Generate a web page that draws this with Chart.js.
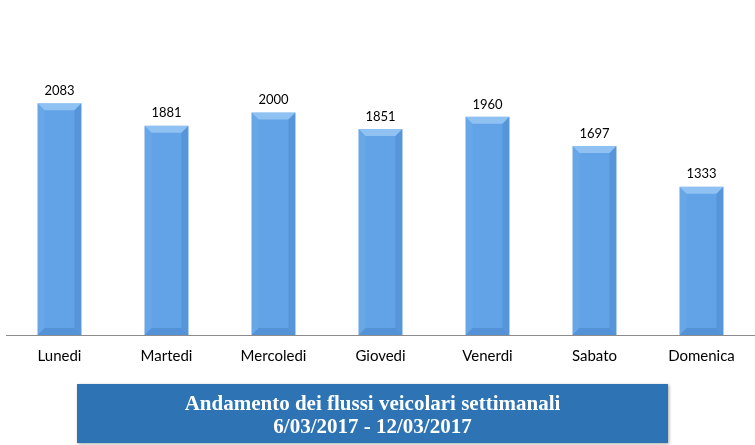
<!DOCTYPE html>
<html>
<head>
<meta charset="utf-8">
<script src="https://cdn.jsdelivr.net/npm/chart.js@4/dist/chart.umd.min.js"></script>
<style>
  html, body { margin: 0; padding: 0; background: #fff; }
  #wrap { position: relative; width: 755px; height: 445px; }
  #titleBox {
    position: absolute; left: 77px; top: 384px; width: 591px; height: 59px;
    background: #2e74b5; color: #fff; text-align: center;
    font-family: "Liberation Serif", serif; font-weight: bold; font-size: 21px;
    line-height: 23px; box-sizing: border-box; padding-top: 8px;
    box-shadow: 1px 1px 3px rgba(0,0,0,0.35);
  }
</style>
</head>
<body>
<div id="wrap">
  <canvas id="myChart"></canvas>
  <div id="titleBox">Andamento dei flussi veicolari settimanali<br>6/03/2017 - 12/03/2017</div>
</div>
<script>
const days = ['Lunedi', 'Martedi', 'Mercoledi', 'Giovedi', 'Venerdi', 'Sabato', 'Domenica'];
const flows = [2083, 1881, 2000, 1851, 1960, 1697, 1333];

// bevel look + value labels on top of each bar
const bevelPlugin = {
    id: 'bevel',
    afterDatasetsDraw(chart) {
        const ctx = chart.ctx;
        const meta = chart.getDatasetMeta(0);
        meta.data.forEach((bar, i) => {
            const w = bar.width;
            const l = bar.x - w / 2, r = bar.x + w / 2;
            const t = bar.y, b = bar.base;
            const s = 7;
            ctx.save();
            // top
            ctx.fillStyle = 'rgba(190,225,255,0.5)';
            ctx.beginPath();
            ctx.moveTo(l, t); ctx.lineTo(r, t); ctx.lineTo(r - s, t + s); ctx.lineTo(l + s, t + s);
            ctx.fill();
            // left
            ctx.fillStyle = 'rgba(120,180,240,0.3)';
            ctx.beginPath();
            ctx.moveTo(l, t); ctx.lineTo(l + s, t + s); ctx.lineTo(l + s, b - s); ctx.lineTo(l, b);
            ctx.fill();
            // right
            ctx.fillStyle = 'rgba(30,80,150,0.16)';
            ctx.beginPath();
            ctx.moveTo(r, t); ctx.lineTo(r - s, t + s); ctx.lineTo(r - s, b - s); ctx.lineTo(r, b);
            ctx.fill();
            // bottom
            ctx.fillStyle = 'rgba(30,80,150,0.2)';
            ctx.beginPath();
            ctx.moveTo(l, b); ctx.lineTo(l + s, b - s); ctx.lineTo(r - s, b - s); ctx.lineTo(r, b);
            ctx.fill();
            // value
            ctx.fillStyle = '#000';
            ctx.font = '13px Lato';
            ctx.textAlign = 'center';
            ctx.textBaseline = 'bottom';
            ctx.fillText(flows[i], bar.x, t - 6);
            ctx.restore();
        });
    }
};

new Chart(document.getElementById('myChart'), {
    type: 'bar',
    data: {
        labels: days,
        datasets: [{
            data: flows,
            backgroundColor: '#61a3e6',
            borderWidth: 0,
            barPercentage: 0.41,
            categoryPercentage: 1
        }]
    },
    options: {
        responsive: true,
        maintainAspectRatio: false,
        animation: false,
        layout: { padding: { left: 6, right: 0, top: 10, bottom: 68 } },
        plugins: { legend: { display: false }, tooltip: { enabled: false } },
        scales: {
            x: {
                grid: { display: false, drawTicks: false },
                border: { display: true, color: '#8c8c8c', width: 1 },
                ticks: { color: '#000', padding: 12, font: { family: 'Lato', size: 15 } }
            },
            y: {
                display: false,
                min: 0,
                max: 2920
            }
        }
    },
    plugins: [bevelPlugin]
});
</script>
</body>
</html>
